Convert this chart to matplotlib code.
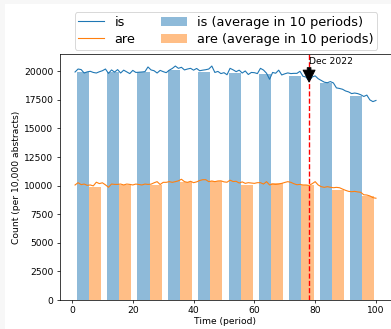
import matplotlib
matplotlib.use("Agg")
import matplotlib.pyplot as plt
from matplotlib.patches import Rectangle
import numpy as np

periods = list(range(1, 101))
is_counts = [19940, 20200, 20150, 19850, 19950, 20000, 19900, 19850, 19960, 20050,
             20200, 19820, 20120, 19930, 20150, 19850, 20100, 19950, 19800, 20080,
             19900, 19920, 19940, 19970, 20380, 20120, 20050, 19850, 20080, 19970,
             19880, 20100, 20250, 20460, 20260, 20350, 20120, 20200, 20260, 20100,
             20250, 20050, 20100, 20140, 20200, 20460, 19900, 19990, 19800, 19880,
             19700, 20260, 20130, 19970, 20100, 19850, 20030, 19720, 19900, 19880,
             19800, 20260, 20110, 19830, 19300, 19900, 19830, 20100, 19680, 19780,
             19860, 19800, 19820, 19820, 20000, 19560, 19500, 19150, 19500, 19600,
             19350, 19200, 19050, 19000, 19100, 18980, 18550, 18500, 18430, 18280,
             18200, 18050, 18100, 18050, 17950, 17800, 17920, 17500, 17350, 17450]
are_counts = [10057, 10260, 10090, 10140, 10030, 10060, 9980, 10300, 10180, 10250,
              10070, 9860, 10140, 10110, 10110, 10140, 10060, 10140, 10110, 10060,
              10140, 10100, 10060, 10140, 10110, 10130, 10250, 10350, 10100, 10290,
              10290, 10350, 10290, 10350, 10420, 10560, 10350, 10290, 10380, 10260,
              10330, 10450, 10520, 10520, 10350, 10410, 10350, 10410, 10420, 10330,
              10300, 10480, 10360, 10380, 10230, 10330, 10200, 10260, 10230, 10200,
              10260, 10260, 10140, 10350, 10060, 10140, 10110, 10140, 10200, 10280,
              10350, 10290, 10170, 10080, 10110, 10060, 10060, 10020, 10170, 10350,
              10057, 9910, 9850, 9910, 9860, 9820, 9850, 9820, 9700, 9590,
              9500, 9470, 9500, 9450, 9420, 9200, 9180, 9100, 8950, 8900]

group_centers = [5.5, 15.5, 25.5, 35.5, 45.5, 55.5, 65.5, 75.5, 85.5, 95.5]
is_avg = [19912, 19912, 19912, 20088, 19965, 19825, 19764, 19589, 18950, 17866]
are_avg = [9908, 10057, 10057, 10319, 10407, 10057, 10204, 10057, 9620, 9123]

event_period = 78
event_label = "Dec 2022"

DPI = 66
fig = plt.figure(figsize=(391 / DPI, 329 / DPI), dpi=DPI)
fig.patch.set_facecolor("#f7f7f7")
fig.patches.append(Rectangle((5 / 391, 0), 1, (329 - 4) / 329,
                             transform=fig.transFigure, facecolor="white",
                             edgecolor="none", zorder=-10))

ax = fig.add_axes([60 / 391, (329 - 300) / 329, (391 - 60) / 391, (300 - 54) / 329])

centers = np.array(group_centers)
h_is_line, = ax.plot(periods, is_counts, color="C0", lw=1.2, label="is")
h_are_line, = ax.plot(periods, are_counts, color="C1", lw=1.2, label="are")
h_is_bar = ax.bar(centers - 2, is_avg, width=4, color="C0", alpha=0.5,
                  label="is (average in 10 periods)")
h_are_bar = ax.bar(centers + 2, are_avg, width=4, color="C1", alpha=0.5,
                   label="are (average in 10 periods)")

ax.axvline(event_period, color="red", ls="--", lw=1.5)
ax.annotate(event_label, xy=(event_period, 19060), xytext=(event_period, 20480),
            ha="left", va="bottom",
            arrowprops=dict(facecolor="black", shrink=0.0, width=4,
                            headwidth=13, headlength=13))

ax.set_xlim(-3.95, 104.95)
ax.set_ylim(0, 21513)
ax.set_xlabel("Time (period)", labelpad=2)
ax.set_ylabel("Count (per 10,000 abstracts)")
ax.set_xticks([0, 20, 40, 60, 80, 100])
ax.set_yticks(range(0, 20001, 2500))

leg = fig.legend(handles=[h_is_line, h_are_line, h_is_bar, h_are_bar],
                 loc="upper center", ncol=2, fontsize=14, borderaxespad=0,
                 labelspacing=0.3, borderpad=0.3,
                 bbox_to_anchor=(226 / 391, 1 - 12 / 329))

fig.savefig("out.png", dpi=DPI)
